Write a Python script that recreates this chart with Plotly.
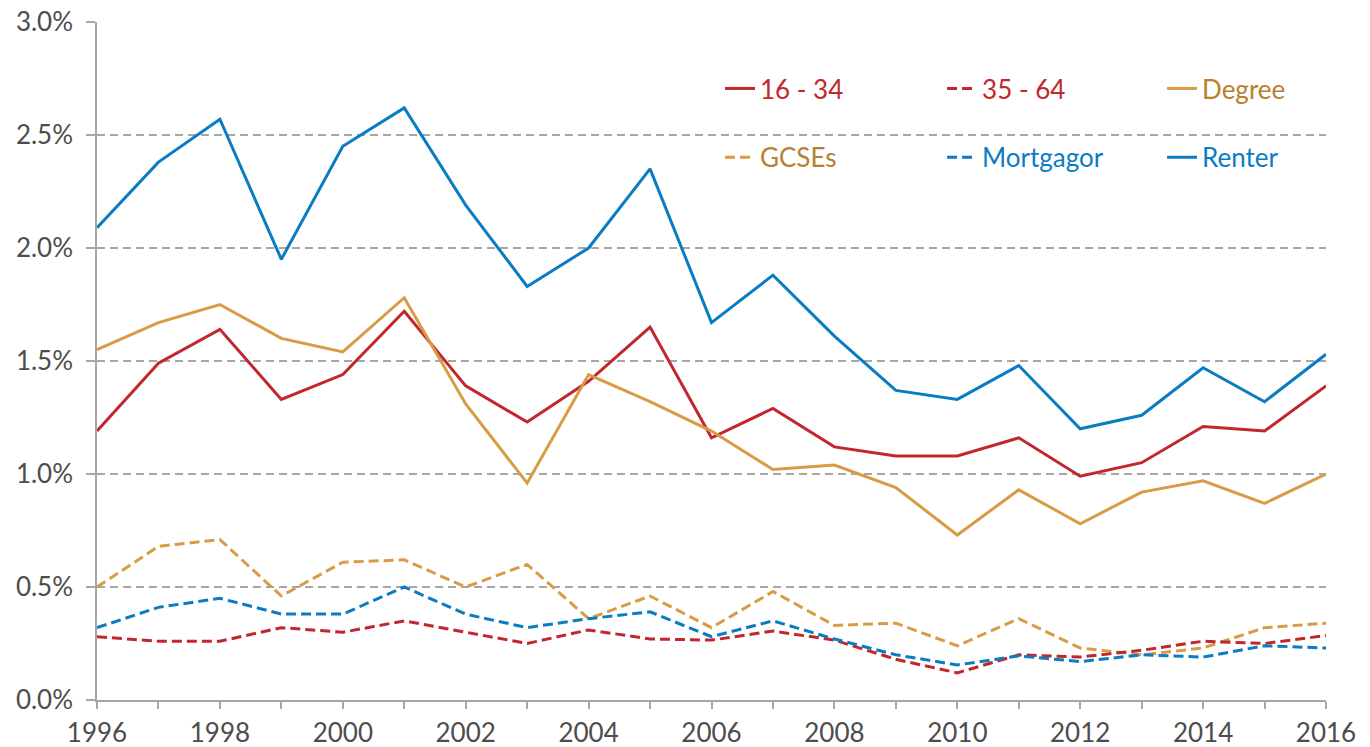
import plotly.graph_objects as go

years = list(range(1996, 2017))

age_16_34 = [1.19, 1.49, 1.64, 1.33, 1.44, 1.72, 1.39, 1.23, 1.41, 1.65, 1.16, 1.29, 1.12, 1.08, 1.08, 1.16, 0.99, 1.05, 1.21, 1.19, 1.39]
age_35_64 = [0.28, 0.26, 0.26, 0.32, 0.30, 0.35, 0.30, 0.25, 0.31, 0.27, 0.265, 0.305, 0.265, 0.18, 0.12, 0.20, 0.19, 0.22, 0.26, 0.25, 0.285]
degree = [1.55, 1.67, 1.75, 1.60, 1.54, 1.78, 1.31, 0.96, 1.44, 1.32, 1.19, 1.02, 1.04, 0.94, 0.73, 0.93, 0.78, 0.92, 0.97, 0.87, 1.00]
gcses = [0.50, 0.68, 0.71, 0.46, 0.61, 0.62, 0.50, 0.60, 0.36, 0.46, 0.32, 0.48, 0.33, 0.34, 0.24, 0.36, 0.23, 0.20, 0.23, 0.32, 0.34]
mortgagor = [0.32, 0.41, 0.45, 0.38, 0.38, 0.50, 0.38, 0.32, 0.36, 0.39, 0.28, 0.35, 0.27, 0.20, 0.155, 0.195, 0.17, 0.20, 0.19, 0.24, 0.23]
renter = [2.09, 2.38, 2.57, 1.95, 2.45, 2.62, 2.19, 1.83, 2.00, 2.35, 1.67, 1.88, 1.61, 1.37, 1.33, 1.48, 1.20, 1.26, 1.47, 1.32, 1.53]
y_ticks = [0.0, 0.5, 1.0, 1.5, 2.0, 2.5, 3.0]
y_tick_labels = ["0.0%", "0.5%", "1.0%", "1.5%", "2.0%", "2.5%", "3.0%"]

RED = "#C1272D"
GOLD = "#D99B45"
GOLD_TXT = "#B8802F"
BLUE = "#0A7CC2"
DASH = "10px,5px"

series = [
    ("16 - 34", age_16_34, RED, RED, "solid", "legend"),
    ("GCSEs", gcses, GOLD, GOLD_TXT, DASH, "legend"),
    ("35 - 64", age_35_64, RED, RED, DASH, "legend2"),
    ("Mortgagor", mortgagor, BLUE, BLUE, DASH, "legend2"),
    ("Degree", degree, GOLD, GOLD_TXT, "solid", "legend3"),
    ("Renter", renter, BLUE, BLUE, "solid", "legend3"),
]

fig = go.Figure()
for name, vals, col, txtcol, dash, leg in series:
    fig.add_trace(go.Scatter(
        x=years, y=vals, mode="lines",
        name=f"<span style='color:{txtcol}'>{name}</span>",
        line=dict(color=col, width=3, dash=dash),
        legend=leg, legendgroup=name,
    ))

FONT = "Lato, 'Open Sans', sans-serif"
legend_common = dict(
    orientation="v", xanchor="left", yanchor="top", y=0.9365,
    font=dict(family=FONT, size=26), bgcolor="rgba(0,0,0,0)",
    itemwidth=30, traceorder="grouped", tracegroupgap=32,
)

fig.update_layout(
    width=1362, height=739,
    margin=dict(l=89, r=44, t=14, b=47, autoexpand=False),
    paper_bgcolor="white", plot_bgcolor="white",
    font=dict(family=FONT, size=26, color="#4D4D4D"),
    showlegend=True,
    legend=dict(x=0.5069, **legend_common),
    legend2=dict(x=0.6876, **legend_common),
    legend3=dict(x=0.8666, **legend_common),
    xaxis=dict(
        range=[1996, 2016], tickmode="linear", tick0=1996, dtick=2,
        ticks="outside", ticklen=7, tickcolor="#A6A6A6", tickwidth=1.5,
        minor=dict(dtick=1, ticks="outside", ticklen=7, tickcolor="#A6A6A6", tickwidth=1.5, showgrid=False),
        showline=True, linecolor="#A6A6A6", linewidth=1.5,
        showgrid=False, zeroline=False, automargin=False,
        ticklabeloverflow="allow", ticklabelstandoff=2,
        tickfont=dict(family=FONT, size=26, color="#4D4D4D"),
    ),
    yaxis=dict(
        range=[0, 3.0001], tickmode="array", tickvals=y_ticks, ticktext=y_tick_labels,
        ticks="outside", ticklen=9, tickcolor="#A6A6A6", tickwidth=1.5,
        showline=True, linecolor="#A6A6A6", linewidth=1.5,
        showgrid=True, gridcolor="#A6A6A6", gridwidth=1.5, griddash="8px,5px",
        zeroline=False, automargin=False, ticklabeloverflow="allow",
        ticklabelstandoff=8,
        tickfont=dict(family=FONT, size=26, color="#4D4D4D"),
    ),
)

fig.write_html("out.html")
